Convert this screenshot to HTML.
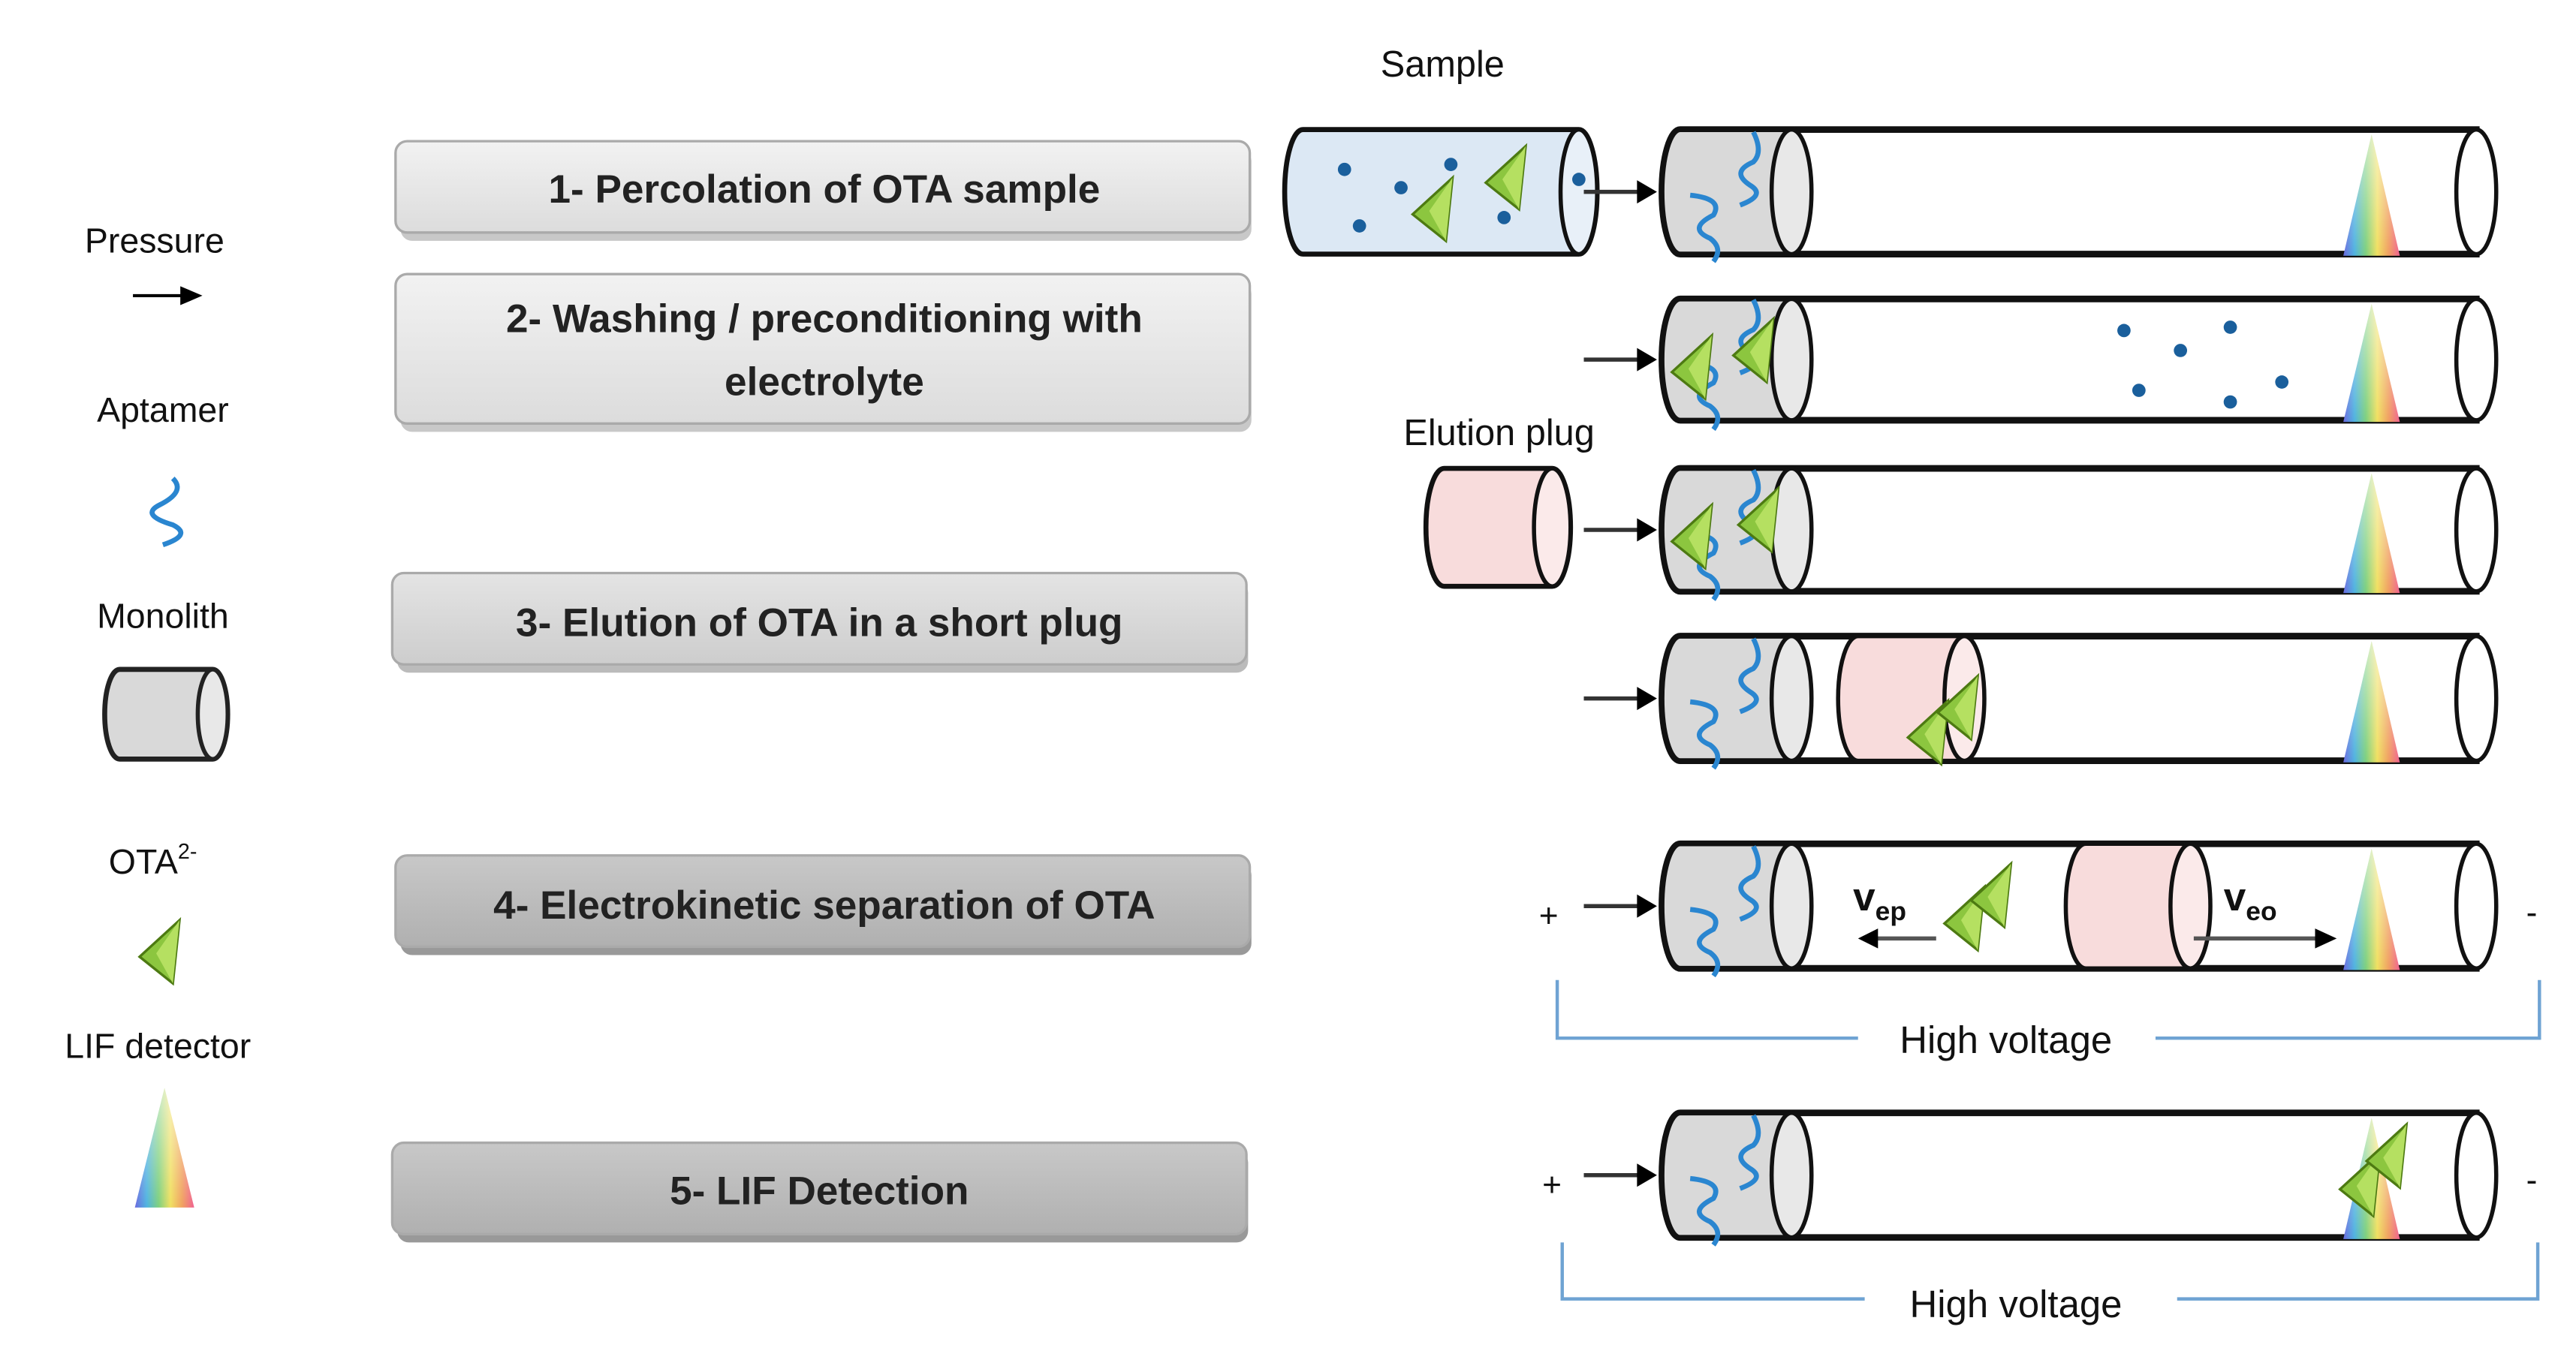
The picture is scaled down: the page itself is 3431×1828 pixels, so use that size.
<!DOCTYPE html>
<html><head><meta charset="utf-8">
<style>
html,body{margin:0;padding:0;background:#fff;}
svg{display:block;}
text{font-family:"Liberation Sans",sans-serif;}
</style></head>
<body>
<svg id="s" xmlns="http://www.w3.org/2000/svg" width="3431" height="1828" viewBox="0 0 1550 826" preserveAspectRatio="none">
<defs>
<linearGradient id="b1" x1="0" y1="0" x2="0" y2="1"><stop offset="0" stop-color="#f2f2f2"/><stop offset="1" stop-color="#dcdcdc"/></linearGradient>
<linearGradient id="b3" x1="0" y1="0" x2="0" y2="1"><stop offset="0" stop-color="#e4e4e4"/><stop offset="1" stop-color="#cdcdcd"/></linearGradient>
<linearGradient id="b4" x1="0" y1="0" x2="0" y2="1"><stop offset="0" stop-color="#c8c8c8"/><stop offset="1" stop-color="#b0b0b0"/></linearGradient>
<linearGradient id="rb" x1="0" y1="0" x2="1" y2="0">
<stop offset="0" stop-color="#6a6ae0"/><stop offset="0.2" stop-color="#4fb3e0"/><stop offset="0.4" stop-color="#7ed07e"/><stop offset="0.6" stop-color="#f0e060"/><stop offset="0.8" stop-color="#f0a060"/><stop offset="1" stop-color="#f06090"/></linearGradient>
<linearGradient id="rbv" x1="0" y1="0" x2="0" y2="1"><stop offset="0" stop-color="#fff" stop-opacity="0.6"/><stop offset="1" stop-color="#fff" stop-opacity="0"/></linearGradient>
<g id="cone"><path d="M0,0 L-17,72 L17,72 Z" fill="url(#rb)"/><path d="M0,0 L-17,72 L17,72 Z" fill="url(#rbv)"/></g>
<g id="tri"><path d="M12,-18 L-12,4 L8,20 Z" fill="#8cc63f" stroke="#4d7a12" stroke-width="1.5"/><path d="M12,-18 L-2,2 L8,20 Z" fill="#b5e061"/></g>
<g id="arr"><line x1="0" y1="0" x2="34" y2="0" stroke="#333" stroke-width="2.5"/><path d="M32,-7 L44,0 L32,7 Z" fill="#000"/></g>
</defs>

<g stroke="#aaa" stroke-width="1.5">
<rect x="240" y="87" width="512" height="55" rx="7" fill="#c8c8c8" transform="translate(1,3)" stroke="none"/>
<rect x="238" y="85" width="514" height="55" rx="7" fill="url(#b1)"/>
<rect x="240" y="167" width="512" height="90" rx="7" fill="#c8c8c8" transform="translate(1,3)" stroke="none"/>
<rect x="238" y="165" width="514" height="90" rx="7" fill="url(#b1)"/>
<rect x="238" y="347" width="512" height="55" rx="7" fill="#bbb" transform="translate(1,3)" stroke="none"/>
<rect x="236" y="345" width="514" height="55" rx="7" fill="url(#b3)"/>
<rect x="240" y="517" width="512" height="55" rx="7" fill="#999" transform="translate(1,3)" stroke="none"/>
<rect x="238" y="515" width="514" height="55" rx="7" fill="url(#b4)"/>
<rect x="238" y="690" width="512" height="55" rx="7" fill="#999" transform="translate(1,3)" stroke="none"/>
<rect x="236" y="688" width="514" height="55" rx="7" fill="url(#b4)"/>
</g>
<g font-size="24" font-weight="bold" fill="#222" text-anchor="middle">
<text x="496" y="122">1- Percolation of OTA sample</text>
<text x="496" y="200">2- Washing  / preconditioning with</text>
<text x="496" y="238">electrolyte</text>
<text x="493" y="383">3- Elution of OTA in a  short plug</text>
<text x="496" y="553">4- Electrokinetic separation of OTA</text>
<text x="493" y="725">5- LIF Detection</text>
</g>

<g font-size="21" fill="#111" text-anchor="middle">
<text x="93" y="152">Pressure</text>
<text x="98" y="254">Aptamer</text>
<text x="98" y="378">Monolith</text>
<text x="92" y="526">OTA<tspan font-size="13" dy="-9">2-</tspan></text>
<text x="95" y="637">LIF detector</text>
</g>
<g transform="translate(80,178) scale(0.95)"><line x1="0" y1="0" x2="32" y2="0" stroke="#000" stroke-width="2"/><path d="M30,-6 L44,0 L30,6 Z" fill="#000"/></g>
<path d="M104,288 Q112,296 96,304 Q84,310 104,316 Q116,322 98,328" fill="none" stroke="#2a86d0" stroke-width="3"/>
<path d="M72,403 L128,403 A9,27 0 0 1 128,457 L72,457 A9,27 0 0 1 72,403 Z" fill="#d9d9d9" stroke="#222" stroke-width="3"/>
<ellipse cx="128" cy="430" rx="9" ry="27" fill="#e8e8e8" stroke="#222" stroke-width="2.5"/>
<use href="#tri" transform="translate(96,572)"/>
<use href="#cone" transform="translate(99,655) scale(1.05,1)"/>

<text x="868" y="46" font-size="22" fill="#111" text-anchor="middle">Sample</text>
<text x="902" y="268" font-size="22" fill="#111" text-anchor="middle">Elution plug</text>

<g id="tubes"></g>

<g fill="#1a5f9c">
<circle cx="809" cy="102" r="4"/><circle cx="843" cy="113" r="4"/><circle cx="873" cy="99" r="4"/><circle cx="818" cy="136" r="4"/><circle cx="905" cy="131" r="4"/><circle cx="950" cy="108" r="4"/>
<circle cx="1278" cy="199" r="4"/><circle cx="1312" cy="211" r="4"/><circle cx="1342" cy="197" r="4"/><circle cx="1287" cy="235" r="4"/><circle cx="1342" cy="242" r="4"/><circle cx="1373" cy="230" r="4"/>
</g>
<use href="#tri" transform="translate(862,125)"/>
<use href="#tri" transform="translate(906,106)"/>

<g font-size="20" fill="#111">
<text x="926" y="558">+</text><text x="1520" y="556">-</text>
<text x="928" y="720">+</text><text x="1520" y="717">-</text>
<text x="1115" y="548" font-size="24" font-weight="bold">v<tspan font-size="16" dy="6">ep</tspan></text>
<text x="1338" y="548" font-size="24" font-weight="bold">v<tspan font-size="16" dy="6">eo</tspan></text>
</g>
<g><line x1="1165" y1="565" x2="1128" y2="565" stroke="#555" stroke-width="2.5"/><path d="M1130,559 L1118,565 L1130,571 Z" fill="#000"/></g>
<g><line x1="1320" y1="565" x2="1395" y2="565" stroke="#555" stroke-width="2.5"/><path d="M1393,559 L1406,565 L1393,571 Z" fill="#000"/></g>

<g fill="none" stroke="#6fa3d3" stroke-width="2">
<path d="M937,590 L937,625 L1118,625"/><path d="M1297,625 L1528,625 L1528,590"/>
<path d="M940,748 L940,782 L1122,782"/><path d="M1310,782 L1527,782 L1527,748"/>
</g>
<text x="1207" y="634" font-size="23" fill="#111" text-anchor="middle">High voltage</text>
<text x="1213" y="793" font-size="23" fill="#111" text-anchor="middle">High voltage</text>
</svg>
<script>
(function(){
var g=document.getElementById('tubes'),h='';
function cyl(x0,x1,y0,y1,fill,endFill,sw){
 var ry=(y1-y0)/2,rx=11,cy=(y0+y1)/2;
 h+='<path d="M'+(x0+rx)+','+y0+' L'+x1+','+y0+' A'+rx+','+ry+' 0 0 1 '+x1+','+y1+' L'+(x0+rx)+','+y1+' A'+rx+','+ry+' 0 0 1 '+(x0+rx)+','+y0+' Z" fill="'+fill+'" stroke="#111" stroke-width="'+(sw||3)+'"/>';
 h+='<ellipse cx="'+x1+'" cy="'+cy+'" rx="'+rx+'" ry="'+ry+'" fill="'+endFill+'" stroke="#111" stroke-width="2.5"/>';
}
function apt(x,y){
 h+='<path d="M'+(x+40)+','+(y-36)+' Q'+(x+46)+','+(y-24)+' '+(x+40)+','+(y-18)+' Q'+(x+26)+','+(y-12)+' '+(x+38)+','+(y-4)+' Q'+(x+48)+','+(y+2)+' '+(x+32)+','+(y+8)+'" fill="none" stroke="#2a86d0" stroke-width="3"/>';
 h+='<path d="M'+(x+2)+','+(y+2)+' Q'+(x+22)+','+(y+4)+' '+(x+16)+','+(y+14)+' Q'+(x+0)+','+(y+22)+' '+(x+14)+','+(y+28)+' Q'+(x+22)+','+(y+34)+' '+(x+16)+','+(y+42)+'" fill="none" stroke="#2a86d0" stroke-width="3"/>';
}
var rows=[[78,153],[180,253],[282,356],[383,458],[508,583],[670,745]];
cyl(773,950,78,153,'#dce8f4','#e8f0f8');
cyl(858,934,282,353,'#f8dcdc','#fbeaea');
rows.forEach(function(r,i){
 var y0=r[0],y1=r[1],cy=(y0+y1)/2,ry=(y1-y0)/2;
 h+='<path d="M1011,'+y0+' L1490,'+y0+' L1490,'+y1+' L1011,'+y1+' A11,'+ry+' 0 0 1 1011,'+y0+' Z" fill="#fff" stroke="#111" stroke-width="4"/>';
 h+='<path d="M1011,'+y0+' L1078,'+y0+' L1078,'+y1+' L1011,'+y1+' A11,'+ry+' 0 0 1 1011,'+y0+' Z" fill="#d9d9d9" stroke="#111" stroke-width="3"/>';
 h+='<ellipse cx="1078" cy="'+cy+'" rx="12" ry="'+ry+'" fill="#e8e8e8" stroke="#111" stroke-width="2.5"/>';
 h+='<ellipse cx="1490" cy="'+cy+'" rx="12" ry="'+ry+'" fill="#fff" stroke="#111" stroke-width="2.5"/>';
 if(i==3){h+='<path d="M1118,'+y0+' L1182,'+y0+' L1182,'+y1+' L1118,'+y1+' A12,'+ry+' 0 0 1 1118,'+y0+' Z" fill="#f8dcdc" stroke="#111" stroke-width="2.5"/><ellipse cx="1182" cy="'+cy+'" rx="12" ry="'+ry+'" fill="#fbeaea" stroke="#111" stroke-width="2.5"/>';}
 if(i==4){h+='<path d="M1255,'+y0+' L1318,'+y0+' L1318,'+y1+' L1255,'+y1+' A12,'+ry+' 0 0 1 1255,'+y0+' Z" fill="#f8dcdc" stroke="#111" stroke-width="2.5"/><ellipse cx="1318" cy="'+cy+'" rx="12" ry="'+ry+'" fill="#fbeaea" stroke="#111" stroke-width="2.5"/>';}
 apt(1015,cy);
 h+='<use href="#cone" transform="translate(1427,'+(y0+3)+') scale(1,'+((y1-y0)/74)+')"/>';
 h+='<use href="#arr" transform="translate(953,'+cy+')"/>';
});
[[1018,220],[1055,210],[1018,322],[1058,312],[1160,440],[1178,425],[1182,552],[1198,538],[1420,712],[1436,695]].forEach(function(p){
 h+='<use href="#tri" transform="translate('+p[0]+','+p[1]+')"/>';
});
g.innerHTML=h;
})();
</script>
</body></html>
